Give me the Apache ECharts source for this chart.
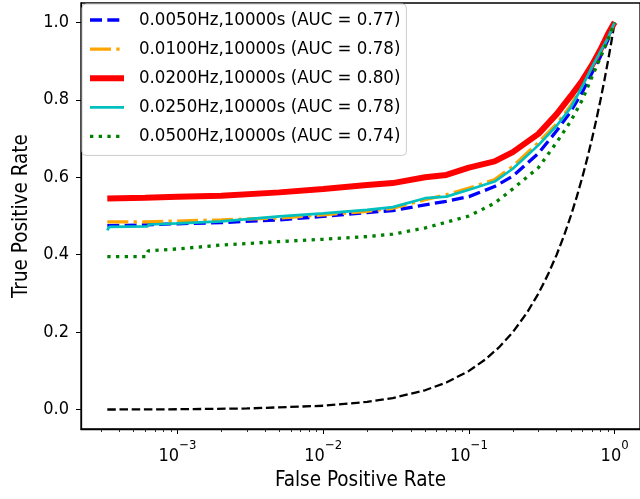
<!DOCTYPE html>
<html>
<head>
<meta charset="utf-8">
<script src="https://cdn.jsdelivr.net/npm/echarts@6/dist/echarts.min.js"></script>
<style>
  html, body { margin: 0; padding: 0; background: #fff; }
  #chart { width: 640px; height: 499px; }
</style>
</head>
<body>
<div id="chart"></div>
<script>
// ---- data ----
const seriesNames = [
  '0.0050Hz,10000s (AUC = 0.77)',
  '0.0100Hz,10000s (AUC = 0.78)',
  '0.0200Hz,10000s (AUC = 0.80)',
  '0.0250Hz,10000s (AUC = 0.78)',
  '0.0500Hz,10000s (AUC = 0.74)'
];
const fpr = [3.3e-4, 6e-4, 1e-3, 2e-3, 5e-3, 1e-2, 2e-2, 3e-2, 5e-2, 0.07, 0.1, 0.15, 0.2, 0.3, 0.4, 0.5, 0.6, 0.7, 0.8, 0.9, 1.0];
const tprBlue   = [0.475, 0.477, 0.480, 0.483, 0.490, 0.499, 0.509, 0.514, 0.529, 0.538, 0.550, 0.576, 0.603, 0.662, 0.720, 0.770, 0.820, 0.870, 0.912, 0.955, 1.0];
const tprOrange = [0.485, 0.485, 0.487, 0.490, 0.495, 0.503, 0.512, 0.520, 0.542, 0.555, 0.572, 0.594, 0.628, 0.690, 0.738, 0.785, 0.838, 0.887, 0.927, 0.962, 1.0];
const tprRed    = [0.545, 0.547, 0.550, 0.552, 0.561, 0.570, 0.580, 0.585, 0.600, 0.606, 0.625, 0.641, 0.665, 0.712, 0.763, 0.810, 0.850, 0.890, 0.930, 0.970, 1.0];
const fprCyan = [3.3e-4, 3.4e-4, 6.2e-4, 6.4e-4, 1e-3, 2e-3, 5e-3, 1e-2, 2e-2, 3e-2, 5e-2, 0.07, 0.1, 0.15, 0.2, 0.3, 0.4, 0.5, 0.6, 0.7, 0.8, 0.9, 1.0];
const tprCyan = [0.463, 0.472, 0.473, 0.478, 0.481, 0.486, 0.499, 0.507, 0.516, 0.523, 0.546, 0.550, 0.568, 0.589, 0.622, 0.683, 0.733, 0.780, 0.835, 0.885, 0.925, 0.960, 1.0];
const fprGreen = [3.3e-4, 6.1e-4, 6.3e-4, 1e-3, 2e-3, 5e-3, 1e-2, 2e-2, 3e-2, 5e-2, 0.07, 0.1, 0.15, 0.2, 0.3, 0.4, 0.5, 0.6, 0.7, 0.8, 0.9, 1.0];
const tprGreen = [0.395, 0.395, 0.410, 0.415, 0.425, 0.434, 0.440, 0.447, 0.453, 0.469, 0.484, 0.500, 0.533, 0.570, 0.625, 0.690, 0.745, 0.800, 0.860, 0.910, 0.955, 1.0];
// chance diagonal (TPR = FPR)
const fprDiag = [3.3e-4, 1e-3, 3e-3, 0.01, 0.02, 0.03, 0.05, 0.07, 0.1, 0.13, 0.16, 0.2, 0.25, 0.3, 0.35, 0.4, 0.45, 0.5, 0.55, 0.6, 0.65, 0.7, 0.75, 0.8, 0.85, 0.9, 0.95, 1.0];
const tprDiag = [3.3e-4, 1e-3, 3e-3, 0.01, 0.02, 0.03, 0.05, 0.07, 0.1, 0.13, 0.16, 0.2, 0.25, 0.3, 0.35, 0.4, 0.45, 0.5, 0.55, 0.6, 0.65, 0.7, 0.75, 0.8, 0.85, 0.9, 0.95, 1.0];
// ticks
const xMajorTicks = [1e-3, 1e-2, 1e-1, 1];
const xMinorTicks = [3e-4, 4e-4, 5e-4, 6e-4, 7e-4, 8e-4, 9e-4,
  2e-3, 3e-3, 4e-3, 5e-3, 6e-3, 7e-3, 8e-3, 9e-3,
  2e-2, 3e-2, 4e-2, 5e-2, 6e-2, 7e-2, 8e-2, 9e-2,
  0.2, 0.3, 0.4, 0.5, 0.6, 0.7, 0.8, 0.9];
const yTicks = [0.0, 0.2, 0.4, 0.6, 0.8, 1.0];

// ---- chart ----
const FONT = "'DejaVu Sans Condensed', 'DejaVu Sans', sans-serif";
const XMIN = Math.pow(10, -3.662);
const XMAX = Math.pow(10, 0.174);
const pairs = (xs, ys) => xs.map((x, i) => [x, ys[i]]);

function expLabel(v) {
  const e = Math.round(Math.log10(v));
  const es = e < 0 ? '\u2212' + (-e) : String(e);
  return '{b|10}{s|' + es + '}';
}

const chart = echarts.init(document.getElementById('chart'), null, { renderer: 'canvas' });
const option = {
  animation: false,
  backgroundColor: '#ffffff',
  textStyle: { fontFamily: FONT, color: '#000' },
  grid: { left: 81, top: 3, width: 562, height: 426, show: true, borderColor: '#000', borderWidth: 1.3, backgroundColor: 'transparent' },
  legend: {
    data: seriesNames,
    orient: 'vertical',
    left: 82, top: 4,
    padding: [6, 6, 9, 5],
    itemWidth: 34, itemHeight: 14, itemGap: 9.1,
    backgroundColor: 'rgba(255,255,255,0.8)',
    borderColor: '#cccccc', borderWidth: 1, borderRadius: 4,
    selectedMode: false,
    itemStyle: { opacity: 0, borderWidth: 0 },
    lineStyle: { width: 'inherit' },
    textStyle: { fontFamily: FONT, fontSize: 18.5, color: '#000', lineHeight: 20, padding: [0, 0, 0, 10] }
  },
  xAxis: [{
    type: 'log', logBase: 10, min: XMIN, max: XMAX, position: 'bottom',
    axisLine: { show: true, onZero: false, lineStyle: { color: '#000', width: 1.3 } },
    axisTick: { show: true, length: 5, customValues: xMajorTicks, lineStyle: { color: '#000', width: 1 } },
    minorTick: { show: false },
    splitLine: { show: false },
    axisLabel: {
      customValues: xMajorTicks, margin: 10, formatter: expLabel,
      rich: {
        b: { fontFamily: FONT, fontSize: 18, lineHeight: 26, verticalAlign: 'bottom', color: '#000' },
        s: { fontFamily: FONT, fontSize: 13, lineHeight: 12, verticalAlign: 'top', color: '#000' }
      }
    },
    name: 'False Positive Rate', nameLocation: 'middle', nameGap: 39,
    nameTextStyle: { fontFamily: FONT, fontSize: 20.5, color: '#000' }
  }, {
    type: 'log', logBase: 10, min: XMIN, max: XMAX, position: 'bottom', offset: 0,
    axisLine: { show: false, onZero: false },
    axisTick: { show: true, length: 3, customValues: xMinorTicks, lineStyle: { color: '#000', width: 0.8 } },
    axisLabel: { show: false },
    splitLine: { show: false },
    minorTick: { show: false }
  }],
  yAxis: {
    type: 'value', min: -0.05, max: 1.05,
    axisLine: { show: true, onZero: false, lineStyle: { color: '#000', width: 1.3 } },
    axisTick: { show: true, length: 5, customValues: yTicks, lineStyle: { color: '#000', width: 1 } },
    splitLine: { show: false },
    axisLabel: { customValues: yTicks, margin: 12, fontFamily: FONT, fontSize: 18, color: '#000', formatter: v => v.toFixed(1) },
    name: 'True Positive Rate', nameLocation: 'middle', nameGap: 49,
    nameTextStyle: { fontFamily: FONT, fontSize: 20.5, color: '#000' }
  },
  series: [
    { name: 'chance', type: 'line', symbol: 'none', data: pairs(fprDiag, tprDiag),
      lineStyle: { color: '#000000', width: 2.3, type: [8.5, 3.7] }, z: 2 },
    { name: seriesNames[0], type: 'line', symbol: 'none', data: pairs(fpr, tprBlue),
      lineStyle: { color: '#0000ff', width: 3.3, type: [12, 5.3] }, itemStyle: { color: '#0000ff' }, z: 3 },
    { name: seriesNames[1], type: 'line', symbol: 'none', data: pairs(fpr, tprOrange),
      lineStyle: { color: '#ffa500', width: 3.3, type: [21, 5.3, 3.3, 5.3] }, itemStyle: { color: '#ffa500' }, z: 4 },
    { name: seriesNames[2], type: 'line', symbol: 'none', data: pairs(fpr, tprRed),
      lineStyle: { color: '#ff0000', width: 6 }, itemStyle: { color: '#ff0000' }, z: 5 },
    { name: seriesNames[3], type: 'line', symbol: 'none', data: pairs(fprCyan, tprCyan),
      lineStyle: { color: '#00bfbf', width: 2.7 }, itemStyle: { color: '#00bfbf' }, z: 6 },
    { name: seriesNames[4], type: 'line', symbol: 'none', data: pairs(fprGreen, tprGreen),
      lineStyle: { color: '#008000', width: 3.3, type: [3.3, 5.4] }, itemStyle: { color: '#008000' }, z: 7 }
  ]
};
chart.setOption(option);
</script>
</body>
</html>
